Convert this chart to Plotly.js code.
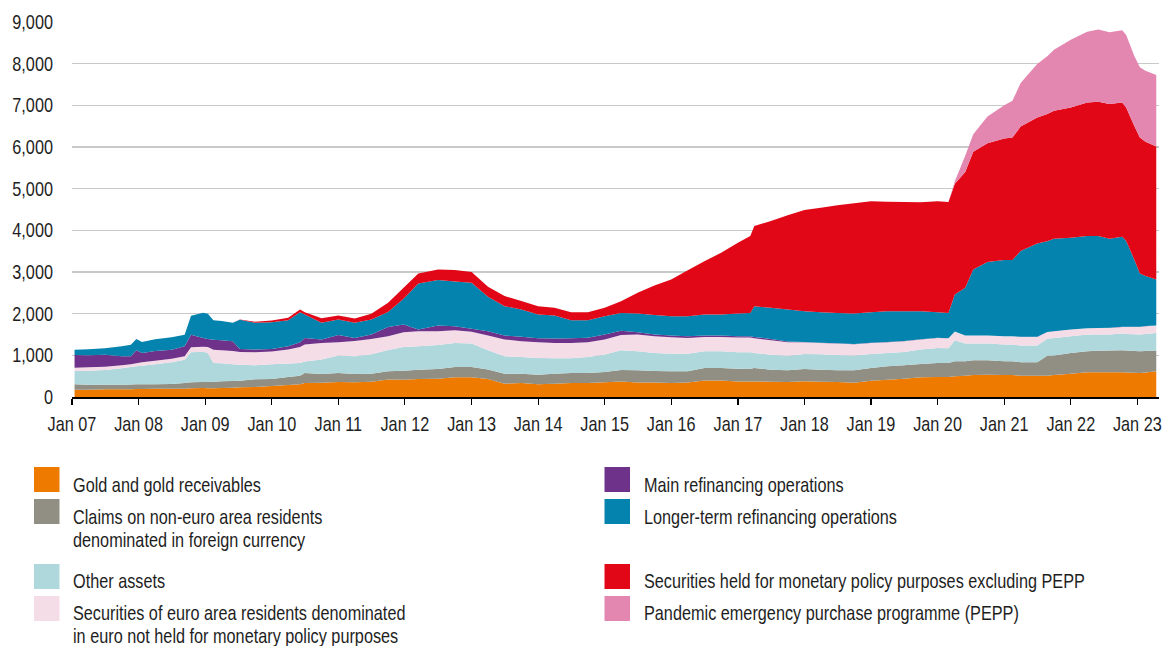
<!DOCTYPE html>
<html><head><meta charset="utf-8">
<script src="https://cdn.plot.ly/plotly-3.0.1.min.js"></script>
<style>html,body{margin:0;padding:0;background:#fff;}</style>
</head><body><div id="chart" style="width:1169px;height:646px;"></div>
<script>
// ---- data (EUR billions) ----
const dates = [
"2007-01-15","2007-04-01","2007-07-01","2007-10-01","2007-11-20","2007-12-20","2008-01-20","2008-04-01","2008-07-01","2008-09-10",
"2008-10-15","2008-12-20","2009-01-15","2009-02-15","2009-04-01","2009-06-01","2009-07-10","2009-10-01","2010-01-01","2010-04-01",
"2010-06-05","2010-07-01","2010-10-01","2011-01-01","2011-04-01","2011-07-01","2011-10-01","2011-12-25","2012-03-15","2012-07-01",
"2012-10-01","2013-01-01","2013-04-01","2013-07-01","2013-10-01","2014-01-01","2014-04-01","2014-07-01","2014-10-01","2015-01-01",
"2015-04-01","2015-07-01","2015-10-01","2016-01-01","2016-04-01","2016-07-01","2016-10-01","2017-01-01","2017-03-10","2017-04-01",
"2017-07-01","2017-10-01","2018-01-01","2018-04-01","2018-07-01","2018-10-01","2019-01-01","2019-04-01","2019-07-01","2019-10-01",
"2020-01-01","2020-03-01","2020-04-05","2020-06-01","2020-07-15","2020-10-01","2021-01-01","2021-02-15","2021-04-01","2021-07-01",
"2021-08-25","2021-10-01","2022-01-01","2022-04-01","2022-06-01","2022-08-01","2022-10-10","2022-11-01","2022-12-15","2023-01-15",
"2023-02-15","2023-04-15"];

const gold = [176,176,184,184,188,192,192,200,200,200, 208,216,208,208,216,224,232,240,264,289,
  305,337,345,361,353,369,420,417,433,441, 473,473,433,321,337,305,321,337,337,353,
  375,351,351,335,351,399,399,375,375,375, 367,359,377,369,361,345,393,417,441,473,
  481,481,497,513,529,536,528,528,512,512, 512,528,560,592,592,592,592,590,580,576, 590,616];

const claims = [128,120,112,112,112,112,112,104,112,136, 144,144,152,160,160,160,160,185,169,192,
  208,240,208,216,200,192,200,216,224,232, 249,249,225,240,224,232,240,240,240,248,
  275,290,274,282,266,298,298,306,306,322, 290,282,296,288,280,296,304,320,320,320,
  336,336,361,345,353,345,329,329,321,321, 478,467,498,506,518,522,530,525,525,522, 515,498];

const otherAssets = [320,336,352,392,420,432,448,480,520,560, 720,728,696,448,432,400,384,340,353,321,
  305,273,345,417,425,465,510,570,562,578, 577,561,465,417,401,401,369,353,385,417,
  472,457,432,424,424,401,401,393,393,360, 360,352,357,369,369,353,337,321,321,345,
  361,353,504,424,400,401,401,401,401,401, 410,424,401,401,389,385,401,400,400,401, 410,425];

const securitiesEuro = [80,80,80,72,64,72,80,88,88,80, 120,120,144,320,312,320,304,310,304,336,
  385,409,401,321,369,369,330,353,361,329, 305,281,353,402,377,377,369,369,353,362,
  368,402,402,394,378,345,345,353,353,354, 346,322,285,273,273,273,265,257,257,241,
  241,241,209,193,193,193,201,201,209,209, 160,160,160,152,156,160,160,168,178,184, 185,176];

const mainRefi = [304,288,288,216,192,312,224,232,216,240, 304,208,192,240,240,232,72,65,65,80,
  112,160,80,176,72,104,220,184,40,136, 96,72,104,96,105,97,104,113,105,120,
  100,55,40,40,40,32,32,32,32,32, 32,15,5,5,5,5,5,5,5,5,
  2,2,2,2,1,1,1,1,1,1, 1,1,1,1,1,1,1,2,2,2, 2,2];

const longerRefi = [128,144,152,240,280,272,264,280,296,280, 456,608,608,464,464,444,704,640,641,627,
  721,561,401,369,361,361,360,618,1107,1091, 1075,1107,826,705,657,569,554,433,425,441,
  425,448,472,465,481,504,504,544,560,737, 745,770,739,730,730,730,730,739,715,675,
  613,605,887,1144,1586,1762,1826,1826,2058,2243, 2179,2219,2203,2211,2207,2139,2163,2058,1617,1281, 1200,1105];

const securitiesMP = [0,0,0,0,0,0,0,0,0,0, 0,0,0,0,0,0,5,25,40,55,
  64,56,112,96,104,137,220,264,240,256, 273,257,241,241,201,200,184,192,192,200,
  285,497,706,881,1104,1282,1482,1700,1844,1924, 2084,2260,2430,2511,2583,2647,2663,2630,2622,2614,
  2663,2663,2660,2779,2822,2853,2918,2942,2991,3022, 3050,3070,3127,3207,3223,3231,3223,3207,3207,3262, 3222,3190];

const pepp = [0,0,0,0,0,0,0,0,0,0, 0,0,0,0,0,0,0,0,0,0,
  0,0,0,0,0,0,0,0,0,0, 0,0,0,0,0,0,0,0,0,0,
  0,0,0,0,0,0,0,0,0,0, 0,0,0,0,0,0,0,0,0,0,
  0,0,60,388,424,642,801,881,1041,1282, 1390,1467,1627,1699,1732,1723,1731,1740,1683,1684, 1708,1716];

const seriesNames = [
  "Gold and gold receivables",
  "Claims on non-euro area residents<br>denominated in foreign currency",
  "Other assets",
  "Securities of euro area residents denominated<br>in euro not held for monetary policy purposes",
  "Main refinancing operations",
  "Longer-term refinancing operations",
  "Securities held for monetary policy purposes excluding PEPP",
  "Pandemic emergency purchase programme (PEPP)"
];
const seriesColors = ["#EE7B00","#918F83","#AED8DC","#F5DDE8","#6E328A","#0383AD","#E20717","#E386B0"];

// ---- font: reference uses a condensed grotesque; emulate with Liberation Sans squeezed horizontally ----
const FONT = "'Liberation Sans', Arial, sans-serif";
const FS = 20;
function measure(family, size, text) {
  const s = document.createElement("span");
  s.style.cssText = "position:absolute;left:-9999px;top:0;white-space:nowrap;font-size:" + size + "px;font-family:" + family + ";";
  s.textContent = text;
  document.body.appendChild(s);
  const w = s.getBoundingClientRect().width;
  s.remove();
  return w;
}
const PROBE = "Gold and gold receivables";
const TARGET_W = 188;                         // width of the probe text in the reference
const SQUEEZE = Math.min(1, TARGET_W / measure(FONT, FS, PROBE));
const TXT = "#1e1e1e";

// ---- layout ----
const W = 1169, H = 646, ML = 72, MR = 10, MT = 22, MB = 249;
const PW = W - ML - MR, PH = H - MT - MB;
const px = p => (p - ML) / PW;
const py = p => (H - MB - p) / PH;

const series = [gold, claims, otherAssets, securitiesEuro, mainRefi, longerRefi, securitiesMP, pepp];
const traces = series.map((vals, i) => ({
  type: "scatter", x: dates, y: vals, name: seriesNames[i].replace("<br>", " "),
  stackgroup: "one", mode: "none", fillcolor: seriesColors[i],
  line: {width: 0, shape: "linear"}, showlegend: false
}));

// custom legend (two columns, square keys)
const rowTops = [467, 499, 564, 596];
const rowTextOffset = [18, 18, 17.3, 16.6];
const colSquareX = [34, 604.5];
const colTextX = [71.5, 642.5];
const shapes = [], annotations = [];
seriesNames.forEach((name, i) => {
  const col = i < 4 ? 0 : 1, row = i % 4;
  const top = rowTops[row];
  shapes.push({type: "rect", xref: "paper", yref: "paper",
    x0: px(colSquareX[col]), x1: px(colSquareX[col] + 25.5),
    y0: py(top + 25), y1: py(top), fillcolor: seriesColors[i], line: {width: 0}, layer: "above"});
  name.split("<br>").forEach((line, k) => {
    annotations.push({xref: "paper", yref: "paper", x: px(colTextX[col]), y: py(top + rowTextOffset[row] + k * 23.3),
      xanchor: "left", yanchor: "middle", align: "left", text: line, showarrow: false,
      borderpad: 0, font: {family: FONT, size: FS, color: TXT}});
  });
});

const layout = {
  width: W, height: H,
  margin: {l: ML, r: MR, t: MT, b: MB, pad: 0},
  paper_bgcolor: "#fff", plot_bgcolor: "#fff",
  font: {family: FONT, size: FS, color: TXT},
  xaxis: {
    type: "date", range: ["2007-01-01", "2023-04-30"],
    tick0: "2007-01-01", dtick: "M12", tickformat: "%b %y",
    ticks: "outside", ticklen: 6, tickwidth: 1.2, tickcolor: "#000",
    showline: true, linecolor: "#000", linewidth: 1.5,
    showgrid: false, zeroline: false, ticklabelstandoff: 3,
    tickfont: {family: FONT, size: FS, color: TXT}
  },
  yaxis: {
    range: [0, 9000], dtick: 1000, tickformat: ",d",
    showgrid: true, gridcolor: "#c9c9c9", gridwidth: 1.5,
    zeroline: false, showline: false, ticks: "", ticklabelstandoff: 18,
    tickfont: {family: FONT, size: FS, color: TXT}
  },
  shapes: shapes, annotations: annotations,
  showlegend: false
};

Plotly.newPlot("chart", traces, layout, {displayModeBar: false, staticPlot: true}).then(gd => {
  // squeeze every text horizontally about its anchor point to mimic the condensed face
  gd.querySelectorAll("text").forEach(t => {
    if (!t.textContent.trim()) return;
    const len = t.getComputedTextLength();
    const ax = parseFloat(t.getAttribute("x")) || 0;
    const tr = t.getAttribute("transform") || "";
    t.setAttribute("transform",
      (tr + " translate(" + ax + ",0) scale(" + SQUEEZE.toFixed(4) + ",1) translate(" + (-ax) + ",0)").trim());
    // shrink the (invisible) annotation box to the squeezed text
    const g = t.parentNode;
    const bg = g && g.querySelector && g.querySelector("rect.bg");
    if (bg) {
      const w = parseFloat(bg.getAttribute("width")) || 0;
      bg.setAttribute("width", Math.max(0, w - len * (1 - SQUEEZE)).toFixed(2));
    }
  });
});
</script>
</body></html>
